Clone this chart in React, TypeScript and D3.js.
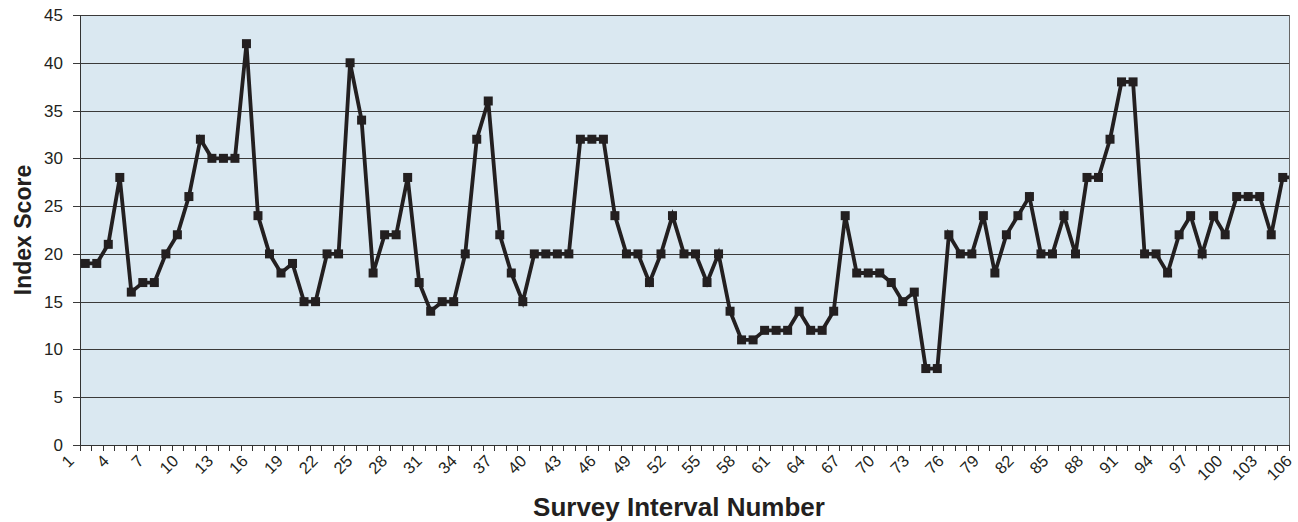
import React from "react";
import * as d3 from "d3";

const intervals: number[] = Array.from({ length: 106 }, (_, i) => i + 1);
const indexScores: number[] = [
  19, 19, 21, 28, 16, 17, 17, 20, 22, 26,
  32, 30, 30, 30, 42, 24, 20, 18, 19, 15,
  15, 20, 20, 40, 34, 18, 22, 22, 28, 17,
  14, 15, 15, 20, 32, 36, 22, 18, 15, 20,
  20, 20, 20, 32, 32, 32, 24, 20, 20, 17,
  20, 24, 20, 20, 17, 20, 14, 11, 11, 12,
  12, 12, 14, 12, 12, 14, 24, 18, 18, 18,
  17, 15, 16, 8, 8, 22, 20, 20, 24, 18,
  22, 24, 26, 20, 20, 24, 20, 28, 28, 32,
  38, 38, 20, 20, 18, 22, 24, 20, 24, 22,
  26, 26, 26, 22, 28, 28,
];
const yTicks: number[] = [0, 5, 10, 15, 20, 25, 30, 35, 40, 45];
const xTickLabels: number[] = intervals.filter((v) => (v - 1) % 3 === 0);

const W = 1298;
const H = 522;
const plotLeft = 80;
const plotRight = 1289;
const plotTop = 15;
const plotBottom = 445;

export default function App() {
  const x = d3.scaleLinear().domain([0.5, 105.5]).range([79.5, 1288.5]);
  const xLabel = d3.scaleLinear().domain([1, 106]).range([71, 1289]);
  const y = d3.scaleLinear().domain([0, 45]).range([plotBottom, plotTop]);
  const line = d3
    .line<number>()
    .x((_, i) => x(intervals[i]))
    .y((d) => y(d));

  const boundaries: number[] = [];
  for (let k = 0; k <= 106; k++) {
    const bx = x(k + 0.5);
    if (bx >= plotLeft - 1 && bx <= plotRight + 1) boundaries.push(bx);
  }

  const font = "'Liberation Sans', Arial, Helvetica, sans-serif";
  const ink = "#231F20";

  return (
    <svg
      width={W}
      height={H}
      style={{ position: "absolute", left: 0, top: 0, background: "#fff" }}
      fontFamily={font}
    >
      <defs>
        <clipPath id="plotClip">
          <rect x={plotLeft} y={0} width={plotRight - plotLeft} height={plotBottom + 5} />
        </clipPath>
      </defs>
      <rect
        x={plotLeft}
        y={plotTop}
        width={plotRight - plotLeft}
        height={plotBottom - plotTop}
        fill="#DAE8F1"
      />
      {yTicks.map((t) => (
        <g key={t}>
          <line
            x1={plotLeft - 7}
            x2={plotRight}
            y1={Math.round(y(t)) + 0.5}
            y2={Math.round(y(t)) + 0.5}
            stroke="#3a3a3a"
            strokeWidth={1}
          />
          <text
            x={plotLeft - 17}
            y={y(t)}
            dy="0.35em"
            textAnchor="end"
            fontSize={17}
            fill={ink}
          >
            {t}
          </text>
        </g>
      ))}
      <line x1={plotRight + 0.5} x2={plotRight + 0.5} y1={plotTop} y2={plotBottom} stroke="#666" strokeWidth={1} />
      <line x1={plotLeft + 0.5} x2={plotLeft + 0.5} y1={plotTop} y2={plotBottom} stroke="#333" strokeWidth={1} />
      <line x1={plotLeft} x2={plotRight + 1} y1={plotBottom + 0.5} y2={plotBottom + 0.5} stroke="#333" strokeWidth={1} />
      {boundaries.map((bx, i) => (
        <line
          key={i}
          x1={Math.round(bx) + 0.5}
          x2={Math.round(bx) + 0.5}
          y1={plotBottom}
          y2={plotBottom + 6}
          stroke="#333"
          strokeWidth={1}
        />
      ))}
      {xTickLabels.map((v) => (
        <text
          key={v}
          transform={`translate(${xLabel(v)},${plotBottom + 13}) rotate(-45)`}
          textAnchor="end"
          dy="0.35em"
          fontSize={16.5}
          fill={ink}
        >
          {v}
        </text>
      ))}
      <g clipPath="url(#plotClip)">
        <path
          d={line(indexScores) || ""}
          fill="none"
          stroke={ink}
          strokeWidth={3.8}
          strokeLinejoin="miter"
        />
        {indexScores.map((d, i) => (
          <rect
            key={i}
            x={x(intervals[i]) - 4.5}
            y={y(d) - 4.5}
            width={9}
            height={9}
            fill={ink}
          />
        ))}
      </g>
      <text
        x={679}
        y={516}
        textAnchor="middle"
        fontSize={26}
        fontWeight="bold"
        fill={ink}
      >
        Survey Interval Number
      </text>
      <text
        transform={`translate(31,230) rotate(-90)`}
        textAnchor="middle"
        fontSize={23}
        fontWeight="bold"
        fill={ink}
      >
        Index Score
      </text>
    </svg>
  );
}
